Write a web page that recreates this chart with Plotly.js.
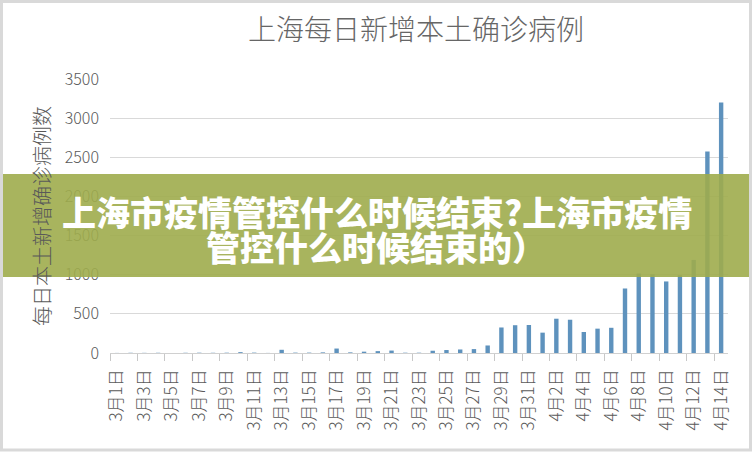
<!DOCTYPE html>
<html>
<head>
<meta charset="utf-8">
<script src="https://cdn.plot.ly/plotly-3.0.1.min.js"></script>
<style>
body{margin:0;background:#fff}
#chart{width:752px;height:452px}
</style>
</head>
<body>
<div id="chart"></div>
<script>
// 日期
let days=["3月1日","3月2日","3月3日","3月4日","3月5日","3月6日","3月7日","3月8日","3月9日","3月10日",
"3月11日","3月12日","3月13日","3月14日","3月15日","3月16日","3月17日","3月18日","3月19日","3月20日",
"3月21日","3月22日","3月23日","3月24日","3月25日","3月26日","3月27日","3月28日","3月29日","3月30日",
"3月31日","4月1日","4月2日","4月3日","4月4日","4月5日","4月6日","4月7日","4月8日","4月9日",
"4月10日","4月11日","4月12日","4月13日","4月14日"]

// 每日本土新增确诊
let cases=[1,3,2,3,0,3,4,3,4,11,
5,1,41,5,5,8,57,8,17,24,
31,4,4,29,38,45,50,96,326,355,
358,260,438,425,268,311,322,824,1015,1006,
914,994,1189,2573,3200]

let titleText="上海每日新增本土确诊病例"
let yTitle="每日本土新增确诊病例数"
let bannerLine1="上海市疫情管控什么时候结束?上海市疫情"
let bannerLine2="管控什么时候结束的）"

let L=110,R=24,T=79,B=99,W=752,H=452
let pw=W-L-R,ph=H-T-B
function px(x){return (x-L)/pw}
function py(y){return (H-B-y)/ph}

let font="'Noto Sans CJK SC', 'Noto Sans', sans-serif"
let gray="#595959"

Plotly.newPlot("chart",[{
type:"bar",
x:days,
y:cases,
width:0.32,
marker:{color:"#5e92bd"},
hoverinfo:"x+y"
}],{
width:W,
height:H,
margin:{l:L,r:R,t:T,b:B},
paper_bgcolor:"#fff",
plot_bgcolor:"#fff",
showlegend:false,
font:{family:font,color:gray},
title:{text:titleText,font:{size:28,color:"#666",weight:300},x:0.495,xref:"paper",y:0.934,yref:"container",yanchor:"middle"},
xaxis:{
type:"category",
tickmode:"linear",
tick0:0,
dtick:2,
tickson:"boundaries",
ticks:"outside",
ticklen:7,
tickcolor:"#c8c8c8",
tickangle:-90,
ticksuffix:"\u2002",
tickfont:{size:17,color:gray,weight:300},
showline:true,
linecolor:"#d0d0d0",
linewidth:1,
showgrid:false,
range:[-0.5,44.5],
automargin:false
},
yaxis:{
range:[0,3500],
dtick:500,
showgrid:true,
gridcolor:"#d9d9d9",
zeroline:false,
tickfont:{size:16,color:gray,weight:300},
ticklabelstandoff:10,
title:{text:yTitle,font:{size:20,color:gray,weight:300},standoff:8},
automargin:false
},
shapes:[
{type:"rect",xref:"paper",yref:"paper",x0:px(0),x1:px(W),y0:py(277),y1:py(174),
fillcolor:"rgba(159,172,77,0.9)",line:{width:0},layer:"above"},
{type:"rect",xref:"paper",yref:"paper",x0:px(1.5),x1:px(W-1.5),y0:py(H-2),y1:py(1.5),
fillcolor:"rgba(0,0,0,0)",line:{color:"#d9d9d9",width:3},layer:"above"}
],
annotations:[
{text:bannerLine1,xref:"paper",yref:"paper",x:px(377),y:py(211),xanchor:"center",yanchor:"middle",
showarrow:false,font:{family:font,size:34,color:"#fff",weight:900}},
{text:bannerLine2,xref:"paper",yref:"paper",x:px(376),y:py(246),xanchor:"center",yanchor:"middle",
showarrow:false,font:{family:font,size:34,color:"#fff",weight:900}}
]
},{displayModeBar:false,staticPlot:true})
</script>
</body>
</html>
